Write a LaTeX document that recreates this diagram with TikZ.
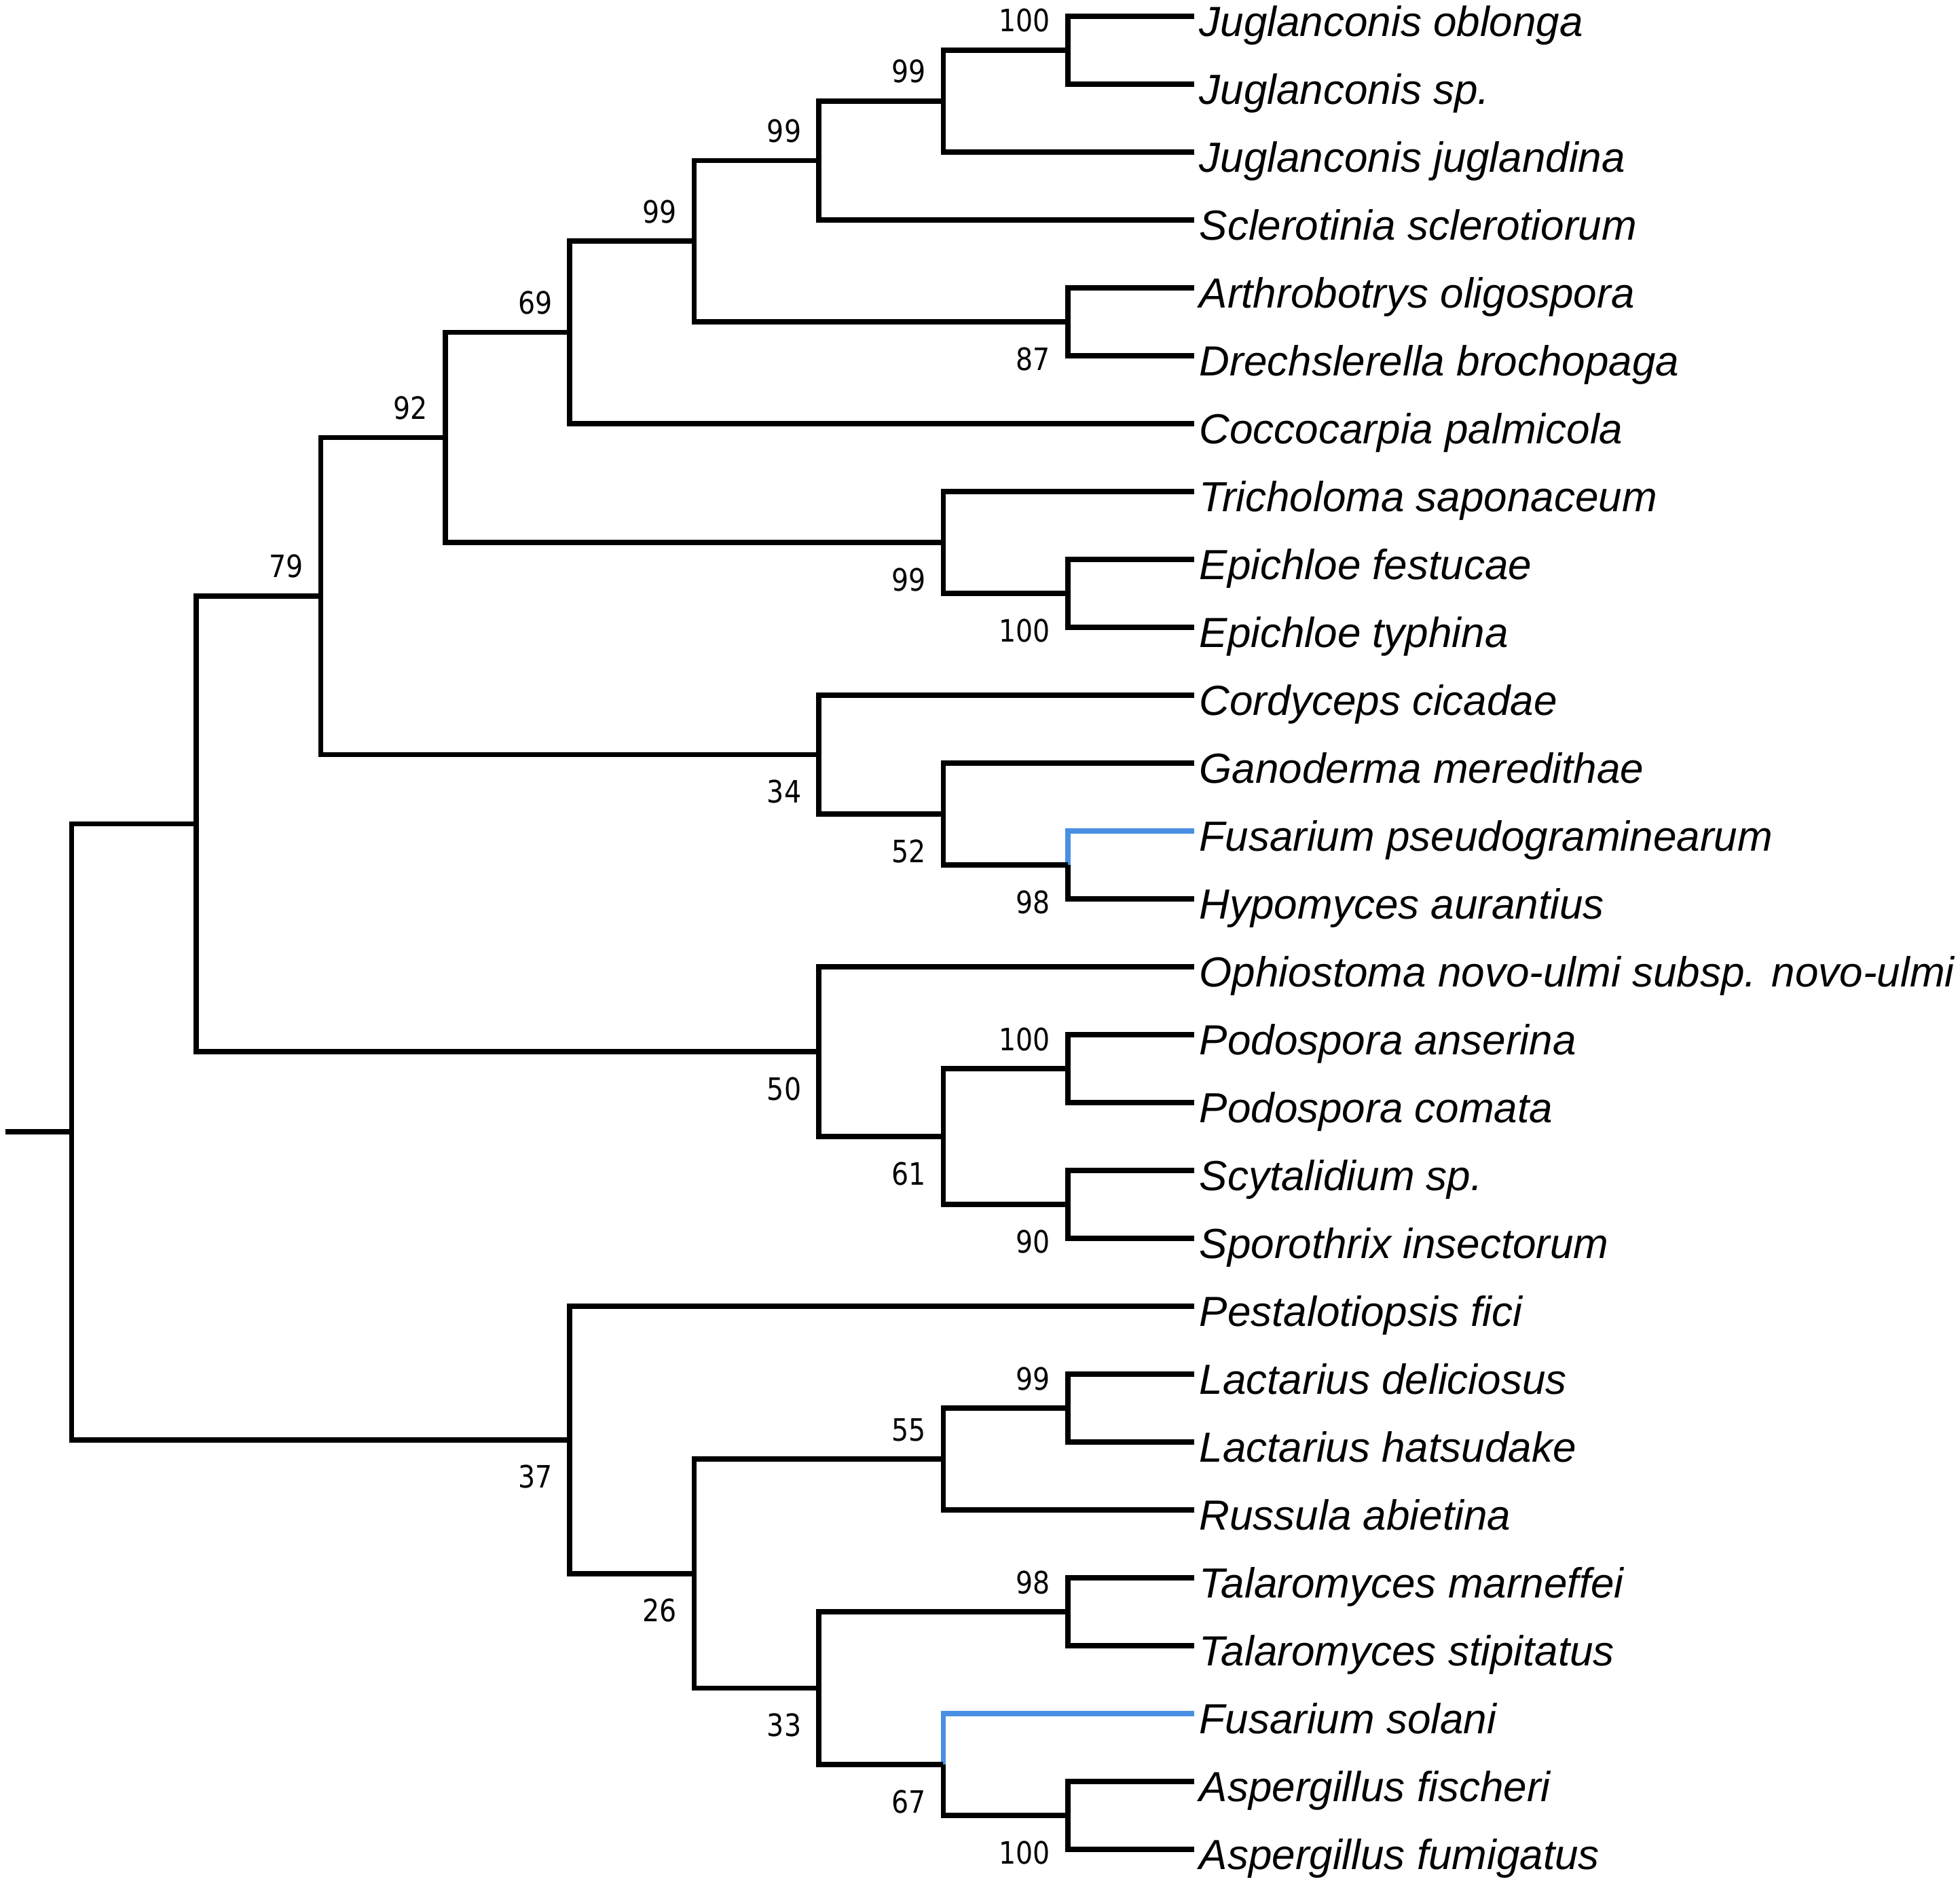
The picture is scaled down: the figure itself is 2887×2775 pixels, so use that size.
\documentclass[tikz,border=0pt]{standalone}
\usepackage{fontspec}
\newfontfamily\labfont{Liberation Sans}
\newfontfamily\numfont[FakeStretch=0.87]{DejaVu Sans}
\definecolor{fusblue}{RGB}{74,144,226}
\begin{document}
\begin{tikzpicture}[x=0.01cm,y=-0.01cm,
  br/.style={line width=2.16pt,line cap=butt,line join=miter,black},
  brblue/.style={br,draw=fusblue},
  leaflab/.style={anchor=base west,inner sep=0pt,font=\labfont\itshape\fontsize{17.63pt}{20pt}\selectfont},
  bstop/.style={anchor=base east,inner sep=0pt,font=\numfont\fontsize{12.9pt}{15pt}\selectfont},
  bsbot/.style={anchor=base east,inner sep=0pt,font=\numfont\fontsize{12.9pt}{15pt}\selectfont}]
\useasboundingbox (0,0) rectangle (2887,2775);
% leaves (tips)
\foreach \i/\t in {0/Juglanconis oblonga,1/Juglanconis sp.,2/Juglanconis juglandina,3/Sclerotinia sclerotiorum,4/Arthrobotrys oligospora,5/Drechslerella brochopaga,6/Coccocarpia palmicola,7/Tricholoma saponaceum,8/Epichloe festucae,9/Epichloe typhina,10/Cordyceps cicadae,11/Ganoderma meredithae,12/Fusarium pseudograminearum,13/Hypomyces aurantius,14/Ophiostoma novo-ulmi subsp. novo-ulmi,15/Podospora anserina,16/Podospora comata,17/Scytalidium sp.,18/Sporothrix insectorum,19/Pestalotiopsis fici,20/Lactarius deliciosus,21/Lactarius hatsudake,22/Russula abietina,23/Talaromyces marneffei,24/Talaromyces stipitatus,25/Fusarium solani,26/Aspergillus fischeri,27/Aspergillus fumigatus}{
  \coordinate (l\i) at (1759,{24+100*\i});
  \node[leaflab] (t\i) at (1766,{53+100*\i}) {\t};
}
% internal nodes
\coordinate (n100a) at (1572.7,74);
\coordinate (n99a) at (1389.3,149);
\coordinate (n99b) at (1205.9,236.5);
\coordinate (n87) at (1572.7,474);
\coordinate (n99c) at (1022.5,355.25);
\coordinate (n69) at (839.1,489.6);
\coordinate (n100b) at (1572.7,874);
\coordinate (n99d) at (1389.3,799);
\coordinate (n92) at (655.7,644.3);
\coordinate (n98a) at (1572.7,1274);
\coordinate (n52) at (1389.3,1199);
\coordinate (n34) at (1205.9,1111.5);
\coordinate (n79) at (472.3,877.9);
\coordinate (n100c) at (1572.7,1574);
\coordinate (n90) at (1572.7,1774);
\coordinate (n61) at (1389.3,1674);
\coordinate (n50) at (1205.9,1549);
\coordinate (nA) at (288.9,1213.5);
\coordinate (n99e) at (1572.7,2074);
\coordinate (n55) at (1389.3,2149);
\coordinate (n98b) at (1572.7,2374);
\coordinate (n100d) at (1572.7,2674);
\coordinate (n67) at (1389.3,2599);
\coordinate (n33) at (1205.9,2486.5);
\coordinate (n26) at (1022.5,2317.75);
\coordinate (n37) at (839.1,2120.9);
\coordinate (root) at (105.5,1667.2);
\coordinate (stub) at (7.7,1667.2);
% blue branches
\draw[brblue] (n98a) |- (l12);
\draw[brblue] (n67) |- (l25);
% black branches
\draw[br] (stub) -- (root);
\foreach \p/\c in {n100a/l0,n100a/l1,n99a/n100a,n99a/l2,n99b/n99a,n99b/l3,
  n87/l4,n87/l5,n99c/n99b,n99c/n87,n69/n99c,n69/l6,
  n100b/l8,n100b/l9,n99d/l7,n99d/n100b,n92/n69,n92/n99d,
  n98a/l13,n52/l11,n52/n98a,n34/l10,n34/n52,n79/n92,n79/n34,
  n100c/l15,n100c/l16,n90/l17,n90/l18,n61/n100c,n61/n90,n50/l14,n50/n61,
  nA/n79,nA/n50,
  n99e/l20,n99e/l21,n55/n99e,n55/l22,n98b/l23,n98b/l24,
  n100d/l26,n100d/l27,n67/n100d,n33/n98b,n33/n67,n26/n55,n26/n33,
  n37/l19,n37/n26,root/nA,root/n37}{
  \draw[br] (\p) |- (\c);
}
% bootstrap labels
\foreach \n/\v in {n100a/100,n99a/99,n99b/99,n99c/99,n69/69,n92/92,n79/79,n100c/100,n99e/99,n55/55,n98b/98}{
  \node[bstop] (b\n) at ([xshift=-0.25cm,yshift=0.27cm]\n) {\v};
}
\foreach \n/\v in {n87/87,n99d/99,n100b/100,n34/34,n52/52,n98a/98,n50/50,n61/61,n90/90,n37/37,n26/26,n33/33,n67/67,n100d/100}{
  \node[bsbot] (b\n) at ([xshift=-0.25cm,yshift=-0.71cm]\n) {\v};
}
\end{tikzpicture}
\end{document}
